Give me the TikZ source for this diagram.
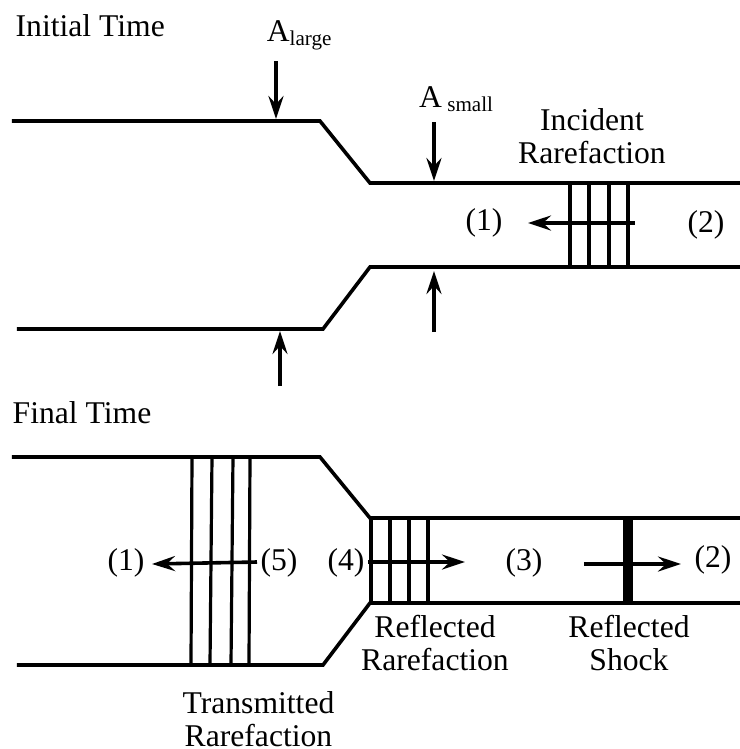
\documentclass[tikz,border=0pt]{standalone}
\usepackage{fontspec}
\setmainfont{Liberation Serif}
\usetikzlibrary{arrows.meta}
\tikzset{
    wall/.style={line width=0.36mm},
    wave/.style={line width=0.32mm},
    flow/.style={line width=0.36mm, -{Stealth[length=2.3mm,width=1.5mm,inset=0.8mm]}},
    label/.style={font=\fontsize{9}{9.4}\selectfont, align=center, inner sep=0pt}
}
\begin{document}
\begin{tikzpicture}[y=-1cm, x=1cm]
    \useasboundingbox (0,0) rectangle (7.40,7.49);

    % initial time
    \node[label, anchor=west] (initial) at (0.15,0.26) {Initial Time};
    \draw[wall] (0.12,1.21) -- (3.20,1.21) -- (3.70,1.83) -- (7.40,1.83);
    \draw[wall] (0.17,3.29) -- (3.23,3.29) -- (3.70,2.67) -- (7.40,2.67);

    \foreach \x in {5.70,5.89,6.09,6.28}
        \draw[wave] (\x,1.83) -- (\x,2.67);

    \node[label] (alarge) at (3.00,0.35) {A\textsubscript{large}};
    \node[label] (asmall) at (4.57,0.99) {A\,\textsubscript{small}};
    \node[label] (incident) at (5.92,1.36) {Incident\\Rarefaction};
    \node[label] (i1) at (4.84,2.23) {(1)};
    \node[label] (i2) at (7.06,2.25) {(2)};

    \coordinate (a1) at (2.76,0.61);
    \coordinate (a2) at (2.76,1.19);
    \coordinate (b1) at (4.34,1.22);
    \coordinate (b2) at (4.34,1.81);
    \coordinate (c1) at (4.34,3.32);
    \coordinate (c2) at (4.34,2.71);
    \coordinate (d1) at (2.80,3.86);
    \coordinate (d2) at (2.80,3.31);
    \coordinate (e1) at (6.35,2.23);
    \coordinate (e2) at (5.28,2.23);
    \draw[flow] (a1) -- (a2);
    \draw[flow] (b1) -- (b2);
    \draw[flow] (c1) -- (c2);
    \draw[flow] (d1) -- (d2);
    \draw[flow] (e1) -- (e2);

    % final time
    \node[label, anchor=west] (final) at (0.12,4.13) {Final Time};
    \draw[wall] (0.12,4.57) -- (3.20,4.57) -- (3.70,5.18) -- (7.40,5.18);
    \draw[wall] (0.17,6.65) -- (3.23,6.65) -- (3.70,6.03) -- (7.40,6.03);

    \draw[wave] (1.92,4.57) -- (1.91,6.65);
    \draw[wave] (2.12,4.57) -- (2.10,6.65);
    \draw[wave] (2.33,4.57) -- (2.31,6.65);
    \draw[wave] (2.50,4.57) -- (2.49,6.65);
    \foreach \x in {3.71,3.90,4.09,4.28}
        \draw[wave] (\x,5.18) -- (\x,6.03);
    \draw[line width=1mm] (6.28,5.18) -- (6.28,6.03);

    \node[label] (f1) at (1.26,5.63) {(1)};
    \node[label] (f5) at (2.79,5.63) {(5)};
    \node[label] (f4) at (3.46,5.63) {(4)};
    \node[label] (f3) at (5.24,5.63) {(3)};
    \node[label] (f2) at (7.13,5.60) {(2)};
    \node[label] (reflectedr) at (4.35,6.43) {Reflected\\Rarefaction};
    \node[label] (reflecteds) at (6.29,6.43) {Reflected\\Shock};
    \node[label] (transmitted) at (2.585,7.19) {Transmitted\\Rarefaction};

    \coordinate (g1) at (2.57,5.62);
    \coordinate (g2) at (1.52,5.64);
    \coordinate (h1) at (3.68,5.62);
    \coordinate (h2) at (4.65,5.62);
    \coordinate (k1) at (5.84,5.64);
    \coordinate (k2) at (6.81,5.64);
    \draw[flow] (g1) -- (g2);
    \draw[flow] (h1) -- (h2);
    \draw[flow] (k1) -- (k2);

\end{tikzpicture}
\end{document}
